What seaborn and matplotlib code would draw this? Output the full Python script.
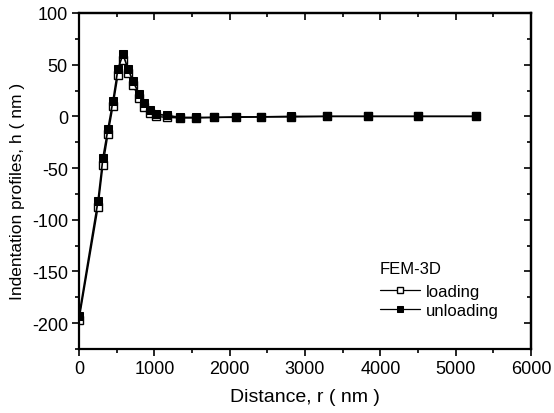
import matplotlib
matplotlib.use("Agg")
import matplotlib.pyplot as plt
import seaborn as sns
import pandas as pd
from matplotlib.ticker import MultipleLocator

r_nm = [0, 252, 318, 385, 451, 517, 584, 650, 716, 796, 862, 942, 1021,
        1167, 1340, 1552, 1790, 2082, 2414, 2812, 3289, 3833, 4496, 5265]
h_loading = [-197, -88, -47, -17, 10, 40, 55, 42, 30, 18, 9, 3, 0,
             -1, -1.5, -1.5, -1, -1, -0.5, -0.5, 0, 0, 0, 0]
h_unloading = [-193, -82, -40, -12, 15, 46, 60, 46, 34, 22, 13, 6, 2,
               1, -1, -1, -1, -0.5, -0.5, 0, 0, 0, 0, 0]

sns.set_theme(style="ticks")
plt.rcParams['font.family'] = ['Liberation Sans', 'DejaVu Sans']
plt.rcParams['axes.unicode_minus'] = False
for key in ['text.color', 'axes.labelcolor', 'xtick.color', 'ytick.color',
            'xtick.labelcolor', 'ytick.labelcolor', 'axes.edgecolor']:
    plt.rcParams[key] = 'black'

fig = plt.figure(figsize=(5.54, 4.14), dpi=100)
ax = fig.add_axes([0.1426, 0.1546, 0.8159, 0.8116])

df_l = pd.DataFrame({"r": r_nm, "h": h_loading})
df_u = pd.DataFrame({"r": r_nm, "h": h_unloading})

sns.lineplot(data=df_l, x="r", y="h", ax=ax, color="black", lw=1.0,
             marker="s", markersize=5.5, markerfacecolor="white",
             markeredgecolor="black", markeredgewidth=1.0, label="loading")
sns.lineplot(data=df_u, x="r", y="h", ax=ax, color="black", lw=1.2,
             marker="s", markersize=5.5, markerfacecolor="black",
             markeredgecolor="black", label="unloading")

ax.set_xlim(0, 6000)
ax.set_ylim(-225, 100)
ax.xaxis.set_major_locator(MultipleLocator(1000))
ax.xaxis.set_minor_locator(MultipleLocator(500))
ax.yaxis.set_major_locator(MultipleLocator(50))
ax.yaxis.set_minor_locator(MultipleLocator(25))
ax.tick_params(which="both", direction="out", top=False, right=False,
               labelsize=13, width=1.2, color="black", labelcolor="black",
               pad=3)
ax.tick_params(which="major", length=5)
ax.tick_params(which="minor", length=3)
for s in ax.spines.values():
    s.set_linewidth(1.6)
    s.set_color("black")

# inward ticks on top and right
sec_x = ax.secondary_xaxis("top")
sec_x.xaxis.set_major_locator(MultipleLocator(1000))
sec_x.xaxis.set_minor_locator(MultipleLocator(500))
sec_x.tick_params(which="both", direction="in", labeltop=False, width=1.2,
                  color="black")
sec_x.tick_params(which="major", length=5)
sec_x.tick_params(which="minor", length=3)
sec_x.spines["top"].set_linewidth(1.6)
sec_y = ax.secondary_yaxis("right")
sec_y.yaxis.set_major_locator(MultipleLocator(50))
sec_y.yaxis.set_minor_locator(MultipleLocator(25))
sec_y.tick_params(which="both", direction="in", labelright=False, width=1.2,
                  color="black")
sec_y.tick_params(which="major", length=5)
sec_y.tick_params(which="minor", length=3)
sec_y.spines["right"].set_linewidth(1.6)

ax.set_xlabel("Distance, r ( nm )", fontsize=14, labelpad=8, color="black")
ax.set_ylabel("Indentation profiles, h ( nm )", fontsize=12.5, color="black")
ax.yaxis.set_label_coords(-0.12, 0.473)

leg = ax.legend(title="FEM-3D", frameon=False, loc="upper left",
                bbox_to_anchor=(0.665, 0.262), fontsize=12,
                title_fontsize=12, handlelength=2.4, handletextpad=0.4,
                borderaxespad=0, borderpad=0, labelspacing=0.2)
leg._legend_box.align = "left"
leg._legend_box.sep = 6
leg.get_title().set_color("black")
for t in leg.get_texts():
    t.set_color("black")
for hnd in leg.legend_handles:
    hnd.set_markersize(4.5)
    hnd.set_linewidth(0.9)

fig.savefig("out.png", dpi=100)
